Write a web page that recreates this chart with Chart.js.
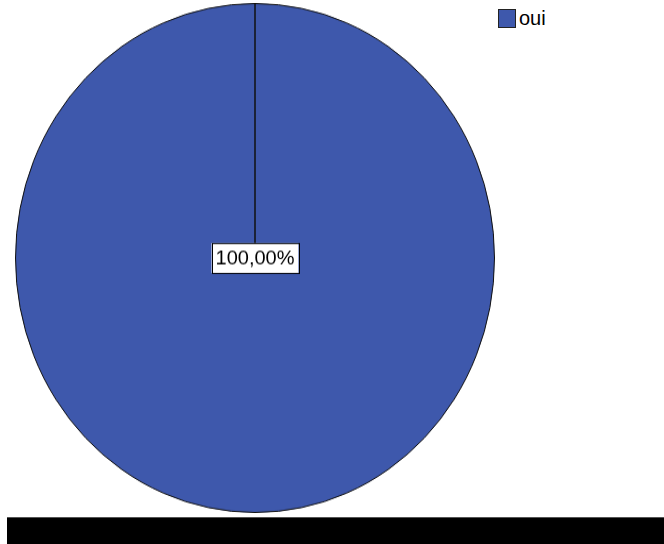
<html lang="fr">

<head>
    <meta charset="UTF-8" />
    <title>Pie</title>
    <style>
        body {
            margin: 0;
            background: #fff;
            width: 664px;
            height: 544px;
            overflow: hidden;
            position: relative;
            font-family: "Liberation Sans", Arial, sans-serif;
        }

        .pieBox {
            position: absolute;
            left: 15px;
            top: 2.5px;
            width: 480px;
            height: 480px;
            transform: scaleY(1.0625);
            transform-origin: 0 0;
        }

        .legend {
            position: absolute;
            left: 498px;
            top: 7px;
            display: flex;
            align-items: center;
            font-size: 20px;
            color: #000;
        }

        .legend span.box {
            display: inline-block;
            width: 16px;
            height: 17px;
            border: 1px solid #222;
            margin-right: 3px;
        }

        .footer {
            position: absolute;
            left: 7px;
            top: 517px;
            width: 657px;
            height: 27px;
            background: #000;
            border-top: 1px solid #555;
        }
    </style>
</head>

<body>
    <div class="pieBox">
        <canvas id="myChart"></canvas>
    </div>
    <div class="legend" id="legend"></div>
    <div class="footer"></div>

    <script src="https://cdn.jsdelivr.net/npm/chart.js"></script>

    <script>
        // data
        const categories = ["oui"];
        const percents = [100];
        const colors = ["#3e58ac"];
        const stretchY = 1.0625;

        // label box in the middle of the slice, drawn unstretched
        const centerLabel = {
            id: "centerLabel",
            afterDatasetsDraw(chart) {
                const arc = chart.getDatasetMeta(0).data[0];
                const ctx = chart.ctx;
                const text = percents[0].toFixed(2).replace(".", ",") + "%";
                ctx.save();
                ctx.translate(arc.x, arc.y);
                ctx.scale(1, 1 / stretchY);
                ctx.font = "20px 'Liberation Sans', Arial, sans-serif";
                const w = ctx.measureText(text).width + 8;
                const h = 30;
                ctx.fillStyle = "#fff";
                ctx.fillRect(-w / 2, -h / 2, w, h);
                ctx.strokeStyle = "#000";
                ctx.lineWidth = 1;
                ctx.strokeRect(Math.round(-w / 2) + 0.5, -h / 2 + 0.5, Math.round(w), h);
                ctx.fillStyle = "#000";
                ctx.textAlign = "center";
                ctx.textBaseline = "middle";
                ctx.fillText(text, 0, 1);
                ctx.restore();
            },
        };

        const data = {
            labels: categories,
            datasets: [
                {
                    data: percents,
                    backgroundColor: colors,
                    borderColor: "#111",
                    borderWidth: 1,
                },
            ],
        };

        const config = {
            type: "pie",
            data,
            options: {
                responsive: true,
                maintainAspectRatio: false,
                animation: false,
                layout: { padding: 0 },
                plugins: {
                    legend: { display: false },
                    tooltip: { enabled: false },
                },
            },
            plugins: [centerLabel],
        };

        const myChart = new Chart(document.getElementById("myChart"), config);

        // legend
        const legend = document.getElementById("legend");
        categories.forEach((c, i) => {
            const box = document.createElement("span");
            box.className = "box";
            box.style.background = colors[i];
            const txt = document.createElement("span");
            txt.textContent = c;
            legend.appendChild(box);
            legend.appendChild(txt);
        });
    </script>
</body>

</html>
